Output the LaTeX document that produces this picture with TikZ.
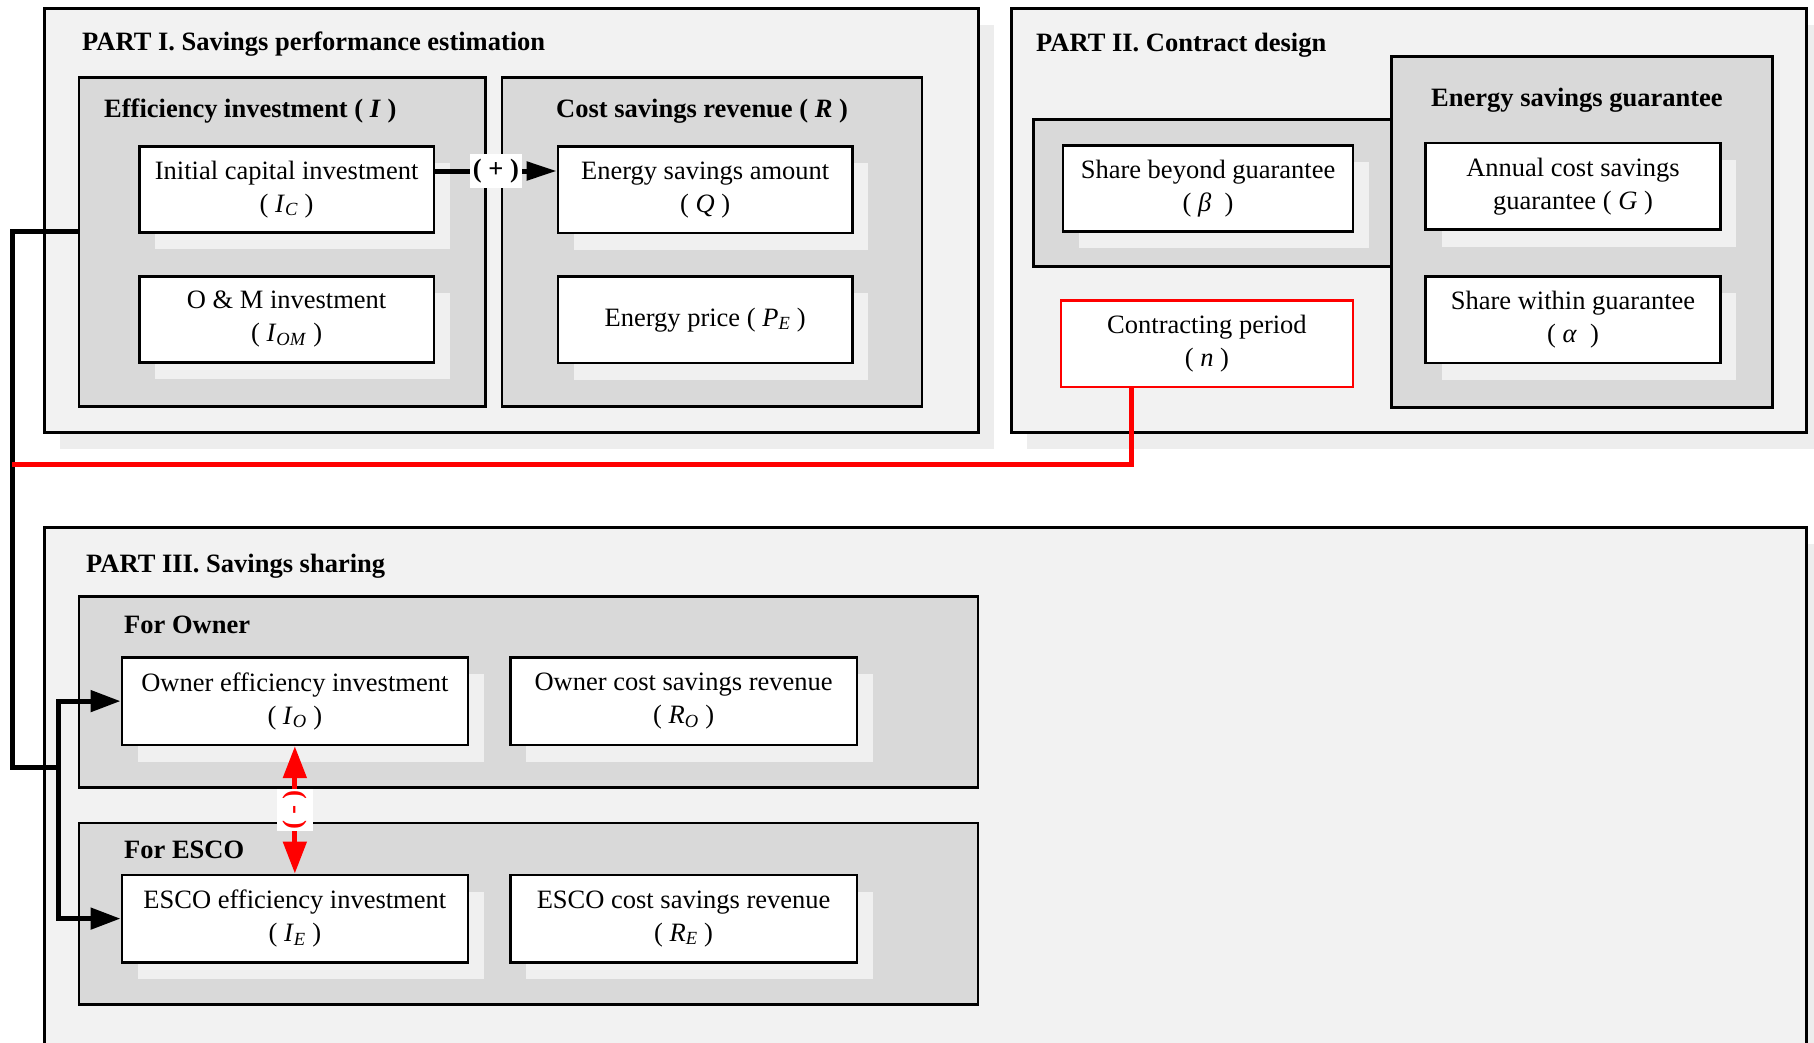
\documentclass[tikz,border=0pt]{standalone}
\usepackage{fontspec}
\setmainfont{Liberation Serif}
\usetikzlibrary{arrows.meta,shadows}

\definecolor{panelc}{HTML}{F2F2F2}
\definecolor{groupc}{HTML}{D9D9D9}
\definecolor{shadout}{HTML}{EDEDED}
\definecolor{shadin}{HTML}{F0F0F0}
\definecolor{linkred}{HTML}{FF0000}

\tikzset{
  sz/.style 2 args={minimum width=#1pt, minimum height=#2pt},
  basefont/.style={font=\fontsize{26.5}{33}\selectfont},
  panel/.style={draw=black, line width=2.7pt, fill=panelc, anchor=north west,
    inner sep=0pt, general shadow={fill=shadout, shadow xshift=16pt, shadow yshift=-17pt}},
  group/.style={draw=black, line width=2.7pt, fill=groupc, anchor=north west, inner sep=0pt},
  wbox/.style={draw=black, line width=2.7pt, fill=white, anchor=north west, inner sep=0pt,
    align=center, basefont,
    general shadow={fill=shadin, shadow xshift=16pt, shadow yshift=-17pt}},
  redbox/.style={draw=linkred, line width=2.2pt, fill=white, anchor=north west, inner sep=0pt,
    align=center, basefont},
  title/.style={anchor=base west, inner sep=0pt, font=\fontsize{26.5}{33}\selectfont\bfseries},
  conn/.style={draw=black, line width=5pt},
  redconn/.style={draw=linkred, line width=5pt},
  pluslbl/.style={fill=white, inner xsep=3pt, inner ysep=5pt, font=\fontsize{26.5}{33}\selectfont\bfseries},
  minuslbl/.style={fill=white, text=linkred, rotate=-90, inner xsep=1pt, inner ysep=6pt,
    font=\fontsize{26.5}{33}\selectfont\bfseries},
}

\begin{document}
\begin{tikzpicture}[x=1pt, y=-1pt]
\useasboundingbox (0,0) rectangle (1814,1042);
\clip (0,0) rectangle (1814,1042);

% ---------- the three parts ----------
\node[panel, sz={934}{424}] (p1) at (43,7) {};
\node[panel, sz={795}{424}] (p2) at (1010,7) {};
\node[panel, sz={1762}{580}] (p3) at (43,526) {};

% ---------- Part I ----------
\node[group, sz={406.5}{329}] (gei) at (77.5,76) {};
\node[group, sz={420}{329}] (gcs) at (500.7,76) {};
\node[title] (t1) at (82,50) {PART I. Savings performance estimation};
\node[title] (tei) at (104,117) {Efficiency investment ( \textit{I} )};
\node[title] (tcs) at (556,117) {Cost savings revenue ( \textit{R} )};

\node[wbox, sz={294.5}{86}] (ic) at (138,145)
  {Initial capital investment\\( \textit{I}\textsubscript{\textit{C}} )};
\node[wbox, sz={294.5}{86}] (om) at (138,275)
  {O \& M investment\\( \textit{I}\textsubscript{\textit{OM}} )};
\node[wbox, sz={294.3}{86.7}] (esa) at (556.7,145)
  {Energy savings amount\\( \textit{Q} )};
\node[wbox, sz={294.3}{86.7}] (ep) at (556.7,275)
  {Energy price ( \textit{P}\textsubscript{\textit{E}} )};

% ---------- Part II ----------
\node[title] (t2) at (1036,51) {PART II. Contract design};
\node[group, sz={358}{147}] (gsb) at (1032,118) {};
\node[group, sz={381}{351}] (gesg) at (1390,55) {};
\node[title] (tesg) at (1431,106) {Energy savings guarantee};

\node[wbox, sz={290}{86}] (sb) at (1061.7,144)
  {Share beyond guarantee\\( \textit{β}~~)};
\node[redbox, sz={291.7}{86.7}] (cp) at (1060,299.3)
  {Contracting period\\( \textit{n} )};
\node[wbox, sz={294.7}{86.6}] (ac) at (1424.3,141.7)
  {Annual cost savings\\guarantee ( \textit{G} )};
\node[wbox, sz={294.7}{86.7}] (sw) at (1424.3,275)
  {Share within guarantee\\( \textit{α}~~)};

% ---------- Part III ----------
\node[title] (t3) at (86,572) {PART III. Savings sharing};
\node[group, sz={899}{191}] (gown) at (77.5,595) {};
\node[group, sz={899}{181.5}] (gesco) at (77.5,821.5) {};
\node[title] (town) at (124,633) {For Owner};
\node[title] (tesco) at (124,858) {For ESCO};

\node[wbox, sz={346}{87.5}] (oei) at (120.5,656)
  {Owner efficiency investment\\( \textit{I}\textsubscript{\textit{O}} )};
\node[wbox, sz={346.5}{87.5}] (ocs) at (509,656)
  {Owner cost savings revenue\\( \textit{R}\textsubscript{\textit{O}} )};
\node[wbox, sz={346}{87.5}] (eei) at (120.5,873.5)
  {ESCO efficiency investment\\( \textit{I}\textsubscript{\textit{E}} )};
\node[wbox, sz={346.5}{87.5}] (ecs) at (509,873.5)
  {ESCO cost savings revenue\\( \textit{R}\textsubscript{\textit{E}} )};

% ---------- connectors ----------
\coordinate (bendL) at (12,767);
\coordinate (fork) at (58,767);
\coordinate (redend) at (12,464);

\draw[conn] (gei.west |- 0,231) -| (bendL) -- (fork);
\draw[conn, -{Triangle[length=30pt,width=21pt]}] (fork) |- (oei.west);
\draw[conn, -{Triangle[length=30pt,width=21pt]}] (fork) |- (eei.west);

\draw[redconn] (cp.south -| 1131.5,0) |- (redend);

\draw[conn, -{Triangle[length=30pt,width=18pt]}] (ic.east |- 0,171)
  -- node[pluslbl] (plus) {( + )} (esa.west |- 0,171);

\draw[redconn, {Triangle[length=32pt,width=23pt]}-{Triangle[length=32pt,width=23pt]}]
  (oei.south) -- node[minuslbl] (minus) {( - )} (eei.north);
\end{tikzpicture}
\end{document}
